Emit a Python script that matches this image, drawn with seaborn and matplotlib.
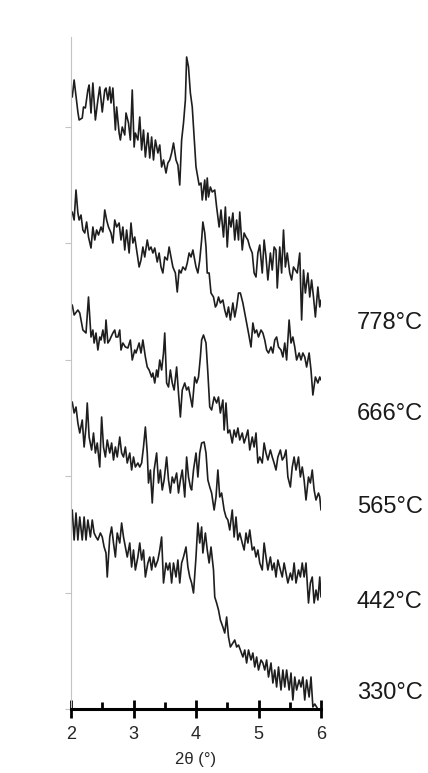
import numpy as np
import pandas as pd
import matplotlib
matplotlib.use('Agg')
import matplotlib.pyplot as plt
from matplotlib.ticker import MultipleLocator
import seaborn as sns

# XRD patterns (2theta in degrees, intensity in a.u.)
temps = ['778°C', '666°C', '565°C', '442°C', '330°C']

pts_778 = [(2.02, 612), (2.05, 629), (2.11, 597), (2.13, 589), (2.18, 591), (2.20, 602), (2.23, 601),
           (2.27, 619), (2.29, 624), (2.32, 596), (2.35, 626), (2.39, 589), (2.43, 609), (2.46, 622),
           (2.50, 597), (2.54, 619), (2.56, 621), (2.59, 609), (2.62, 622), (2.64, 606), (2.67, 621),
           (2.71, 579), (2.73, 602), (2.77, 576), (2.79, 569), (2.82, 582), (2.86, 574), (2.88, 596),
           (2.92, 586), (2.95, 569), (2.98, 619), (3.01, 562), (3.03, 576), (3.07, 569), (3.10, 592),
           (3.13, 559), (3.16, 579), (3.19, 552), (3.23, 576), (3.26, 551), (3.29, 572), (3.32, 549),
           (3.35, 569), (3.39, 556), (3.42, 564), (3.45, 542), (3.48, 549), (3.52, 536), (3.55, 546),
           (3.58, 549), (3.61, 556), (3.64, 566), (3.68, 549), (3.71, 544), (3.74, 524), (3.77, 569),
           (3.80, 586), (3.83, 609), (3.85, 652), (3.88, 642), (3.91, 616), (3.94, 602), (4.00, 542),
           (4.05, 524), (4.08, 526), (4.10, 509), (4.14, 529), (4.16, 509), (4.18, 531), (4.20, 512),
           (4.23, 522), (4.26, 517), (4.30, 519), (4.33, 502), (4.37, 482), (4.40, 499), (4.44, 472),
           (4.47, 502), (4.50, 462), (4.53, 492), (4.56, 482), (4.59, 496), (4.62, 469), (4.65, 489),
           (4.68, 469), (4.70, 497), (4.74, 459), (4.77, 476), (4.80, 472), (4.83, 469), (4.86, 462),
           (4.90, 456), (4.93, 436), (4.96, 432), (4.99, 456), (5.02, 464), (5.06, 436), (5.09, 469),
           (5.12, 452), (5.15, 429), (5.19, 456), (5.22, 439), (5.25, 462), (5.28, 459), (5.30, 421),
           (5.34, 462), (5.37, 436), (5.40, 479), (5.43, 442), (5.46, 456), (5.50, 436), (5.53, 429),
           (5.56, 442), (5.59, 439), (5.62, 436), (5.66, 456), (5.69, 389), (5.72, 439), (5.75, 416),
           (5.79, 436), (5.82, 412), (5.85, 429), (5.88, 412), (5.91, 392), (5.95, 422), (5.98, 402),
           (6.00, 409)]

pts_666 = [(2.02, 497), (2.05, 489), (2.08, 519), (2.11, 496), (2.13, 489), (2.16, 494), (2.19, 479),
           (2.22, 476), (2.25, 487), (2.28, 472), (2.32, 461), (2.35, 482), (2.38, 469), (2.41, 479),
           (2.44, 474), (2.48, 482), (2.51, 477), (2.54, 499), (2.57, 489), (2.60, 482), (2.64, 476),
           (2.67, 466), (2.70, 489), (2.73, 482), (2.77, 486), (2.80, 469), (2.83, 482), (2.86, 459),
           (2.89, 479), (2.93, 456), (2.96, 486), (2.99, 466), (3.02, 472), (3.05, 459), (3.09, 442),
           (3.12, 449), (3.15, 462), (3.18, 452), (3.22, 469), (3.25, 459), (3.28, 462), (3.31, 456),
           (3.34, 461), (3.38, 447), (3.41, 456), (3.44, 442), (3.47, 436), (3.50, 452), (3.54, 449),
           (3.57, 462), (3.60, 452), (3.63, 442), (3.67, 436), (3.70, 417), (3.73, 439), (3.76, 436),
           (3.79, 442), (3.83, 439), (3.86, 446), (3.89, 456), (3.92, 452), (3.95, 459), (4.00, 442),
           (4.03, 436), (4.06, 449), (4.09, 469), (4.11, 487), (4.14, 476), (4.16, 462), (4.18, 436),
           (4.21, 436), (4.24, 416), (4.28, 412), (4.31, 402), (4.33, 404), (4.36, 412), (4.39, 406),
           (4.43, 409), (4.46, 399), (4.49, 392), (4.52, 402), (4.55, 389), (4.59, 406), (4.62, 392),
           (4.65, 402), (4.68, 416), (4.71, 416), (4.75, 406), (4.78, 396), (4.81, 386), (4.84, 376),
           (4.88, 362), (4.91, 386), (4.94, 376), (4.97, 379), (5.00, 372), (5.04, 379), (5.07, 376),
           (5.10, 369), (5.13, 359), (5.16, 356), (5.20, 362), (5.23, 356), (5.26, 369), (5.29, 372),
           (5.32, 362), (5.36, 359), (5.39, 352), (5.42, 366), (5.45, 349), (5.49, 389), (5.52, 366),
           (5.55, 372), (5.58, 362), (5.61, 349), (5.65, 356), (5.68, 349), (5.71, 356), (5.74, 352),
           (5.77, 342), (5.81, 356), (5.84, 339), (5.87, 314), (5.91, 332), (5.95, 326), (5.98, 332),
           (6.00, 329)]

pts_565 = [(2.02, 404), (2.05, 394), (2.11, 399), (2.14, 396), (2.19, 379), (2.24, 376), (2.28, 412),
           (2.32, 372), (2.35, 379), (2.37, 366), (2.40, 376), (2.43, 359), (2.46, 372), (2.48, 369),
           (2.51, 379), (2.54, 366), (2.56, 389), (2.59, 366), (2.62, 369), (2.64, 372), (2.67, 376),
           (2.70, 379), (2.72, 372), (2.75, 372), (2.78, 379), (2.80, 359), (2.83, 366), (2.87, 362),
           (2.91, 361), (2.95, 369), (2.98, 349), (3.02, 359), (3.04, 356), (3.09, 366), (3.12, 356),
           (3.15, 369), (3.19, 352), (3.22, 342), (3.25, 339), (3.29, 332), (3.31, 336), (3.34, 326),
           (3.37, 339), (3.39, 332), (3.42, 349), (3.45, 339), (3.48, 356), (3.50, 376), (3.53, 326),
           (3.56, 322), (3.59, 339), (3.62, 326), (3.65, 319), (3.69, 342), (3.72, 316), (3.75, 292),
           (3.78, 319), (3.82, 326), (3.85, 319), (3.88, 322), (3.91, 312), (3.94, 302), (3.98, 332),
           (4.01, 326), (4.04, 332), (4.07, 352), (4.09, 369), (4.12, 374), (4.16, 366), (4.19, 336),
           (4.22, 302), (4.25, 299), (4.29, 312), (4.33, 306), (4.36, 312), (4.39, 296), (4.43, 309),
           (4.45, 279), (4.48, 306), (4.51, 276), (4.54, 279), (4.58, 266), (4.61, 279), (4.64, 272),
           (4.67, 281), (4.70, 269), (4.74, 276), (4.77, 266), (4.80, 272), (4.83, 279), (4.86, 259),
           (4.90, 272), (4.93, 262), (4.96, 276), (4.99, 246), (5.02, 252), (5.06, 246), (5.09, 266),
           (5.12, 256), (5.15, 249), (5.19, 259), (5.22, 252), (5.25, 246), (5.28, 239), (5.31, 252),
           (5.35, 259), (5.38, 249), (5.41, 252), (5.44, 259), (5.47, 232), (5.51, 222), (5.54, 242),
           (5.57, 252), (5.60, 239), (5.64, 252), (5.67, 232), (5.70, 242), (5.73, 229), (5.76, 209),
           (5.80, 232), (5.83, 226), (5.86, 239), (5.89, 219), (5.92, 209), (5.96, 216), (5.98, 212),
           (6.00, 199)]

pts_442 = [(2.02, 307), (2.05, 296), (2.08, 302), (2.11, 286), (2.14, 276), (2.18, 289), (2.21, 262),
           (2.24, 282), (2.26, 306), (2.29, 272), (2.33, 259), (2.36, 276), (2.39, 256), (2.42, 266),
           (2.46, 242), (2.49, 292), (2.52, 262), (2.55, 252), (2.58, 269), (2.62, 256), (2.65, 266),
           (2.68, 249), (2.71, 262), (2.74, 252), (2.78, 272), (2.81, 256), (2.84, 252), (2.87, 262),
           (2.90, 246), (2.94, 256), (2.97, 239), (3.00, 252), (3.03, 242), (3.07, 246), (3.10, 242),
           (3.13, 246), (3.16, 262), (3.19, 282), (3.22, 256), (3.24, 226), (3.27, 239), (3.30, 206),
           (3.33, 239), (3.37, 256), (3.40, 226), (3.43, 239), (3.46, 219), (3.49, 229), (3.53, 252),
           (3.56, 229), (3.59, 216), (3.62, 232), (3.65, 226), (3.69, 236), (3.72, 216), (3.75, 229),
           (3.78, 239), (3.82, 212), (3.85, 252), (3.88, 232), (3.91, 222), (3.93, 219), (3.96, 239),
           (4.00, 256), (4.03, 232), (4.06, 256), (4.09, 266), (4.13, 267), (4.16, 256), (4.19, 229),
           (4.22, 222), (4.25, 216), (4.29, 199), (4.32, 212), (4.35, 239), (4.38, 212), (4.41, 216),
           (4.45, 199), (4.48, 192), (4.51, 189), (4.54, 179), (4.58, 199), (4.61, 172), (4.64, 192),
           (4.67, 169), (4.70, 176), (4.74, 166), (4.77, 159), (4.80, 176), (4.83, 166), (4.86, 179),
           (4.90, 159), (4.93, 162), (4.96, 152), (4.99, 159), (5.02, 146), (5.06, 139), (5.09, 166),
           (5.12, 152), (5.15, 139), (5.19, 152), (5.22, 139), (5.25, 146), (5.28, 132), (5.31, 149),
           (5.35, 139), (5.38, 132), (5.41, 146), (5.44, 136), (5.47, 126), (5.51, 136), (5.54, 129),
           (5.57, 146), (5.60, 126), (5.64, 139), (5.67, 132), (5.70, 146), (5.73, 132), (5.76, 146),
           (5.80, 106), (5.83, 126), (5.86, 132), (5.89, 106), (5.92, 119), (5.95, 109), (5.98, 132),
           (6.00, 112)]

pts_330 = [(2.02, 199), (2.05, 169), (2.08, 196), (2.11, 169), (2.14, 192), (2.18, 169), (2.21, 192),
           (2.24, 169), (2.27, 189), (2.31, 172), (2.34, 189), (2.37, 176), (2.40, 172), (2.43, 169),
           (2.47, 176), (2.50, 172), (2.53, 162), (2.56, 156), (2.58, 132), (2.62, 172), (2.65, 182),
           (2.68, 166), (2.71, 152), (2.74, 176), (2.78, 166), (2.81, 186), (2.84, 172), (2.87, 162),
           (2.90, 152), (2.94, 166), (2.97, 142), (3.00, 159), (3.03, 139), (3.07, 152), (3.10, 166),
           (3.13, 149), (3.16, 159), (3.19, 132), (3.23, 146), (3.26, 152), (3.29, 139), (3.32, 152),
           (3.35, 142), (3.39, 149), (3.42, 159), (3.45, 172), (3.48, 126), (3.52, 146), (3.55, 139),
           (3.58, 146), (3.61, 126), (3.64, 146), (3.68, 132), (3.71, 149), (3.74, 126), (3.77, 146),
           (3.80, 152), (3.84, 162), (3.87, 142), (3.90, 132), (3.93, 126), (3.96, 116), (4.00, 152),
           (4.03, 186), (4.06, 166), (4.09, 182), (4.11, 156), (4.15, 176), (4.18, 159), (4.21, 146),
           (4.24, 162), (4.28, 139), (4.30, 112), (4.33, 106), (4.36, 99), (4.39, 89), (4.43, 82),
           (4.46, 76), (4.49, 92), (4.52, 72), (4.55, 62), (4.59, 66), (4.62, 69), (4.65, 62),
           (4.68, 64), (4.71, 59), (4.75, 52), (4.78, 59), (4.81, 46), (4.84, 59), (4.88, 49),
           (4.91, 56), (4.94, 42), (4.97, 52), (5.00, 39), (5.04, 49), (5.07, 46), (5.10, 39),
           (5.13, 49), (5.16, 32), (5.20, 46), (5.23, 26), (5.26, 39), (5.29, 22), (5.32, 42),
           (5.36, 19), (5.39, 39), (5.42, 22), (5.45, 39), (5.49, 19), (5.52, 36), (5.55, 9),
           (5.58, 32), (5.61, 19), (5.65, 29), (5.68, 22), (5.71, 32), (5.74, 9), (5.77, 29),
           (5.81, 12), (5.84, 32), (5.87, 2), (5.90, 5), (5.94, 1)]

patterns = [pts_778, pts_666, pts_565, pts_442, pts_330]

# label heights next to each pattern (layout only)
label_y = [386, 295, 202, 107, 16]

# long-form table for seaborn
rows = []
for temp, pts in zip(temps, patterns):
    for tt, inten in pts:
        rows.append({'two_theta': tt, 'intensity': inten, 'sample': temp})
df = pd.DataFrame(rows)

sns.set_style('white')
plt.rcParams['font.family'] = ['Liberation Sans', 'DejaVu Sans']

fig = plt.figure(figsize=(4.28, 7.73), dpi=100)
ax = fig.add_axes([71 / 428, 64 / 773, 250 / 428, 672 / 773])

sns.lineplot(data=df, x='two_theta', y='intensity', hue='sample', estimator=None, sort=False,
             palette={t: '#1e1e1e' for t in temps}, linewidth=1.2, legend=False, ax=ax)

ax.set_xlim(2, 6)
ax.set_ylim(0, 672)

# x axis: bold black line, integer ticks crossing, half ticks inside
ax.spines['top'].set_visible(False)
ax.spines['right'].set_visible(False)
ax.spines['bottom'].set_color('black')
ax.spines['bottom'].set_linewidth(2.2)
ax.spines['left'].set_color('#c4c4c4')
ax.spines['left'].set_linewidth(0.8)

ax.xaxis.set_major_locator(MultipleLocator(1))
ax.xaxis.set_minor_locator(MultipleLocator(0.5))
ax.tick_params(axis='x', which='major', direction='inout', length=13, width=2, color='black',
               labelsize=13, pad=6, bottom=True)
ax.tick_params(axis='x', which='minor', direction='in', length=5, width=2, color='black', bottom=True)

ax.yaxis.set_major_locator(MultipleLocator(116.5))
ax.tick_params(axis='y', which='major', direction='out', length=4.5, width=0.8, color='#c4c4c4',
               labelleft=False, left=True)

ax.set_xlabel('2θ (°)', fontsize=12, labelpad=6)
ax.set_ylabel('')

for temp, ly in zip(temps, label_y):
    ax.text(6.57, ly, temp, fontsize=17, va='center', ha='left', color='#1a1a1a', clip_on=False)

fig.savefig('out.png', dpi=100)
